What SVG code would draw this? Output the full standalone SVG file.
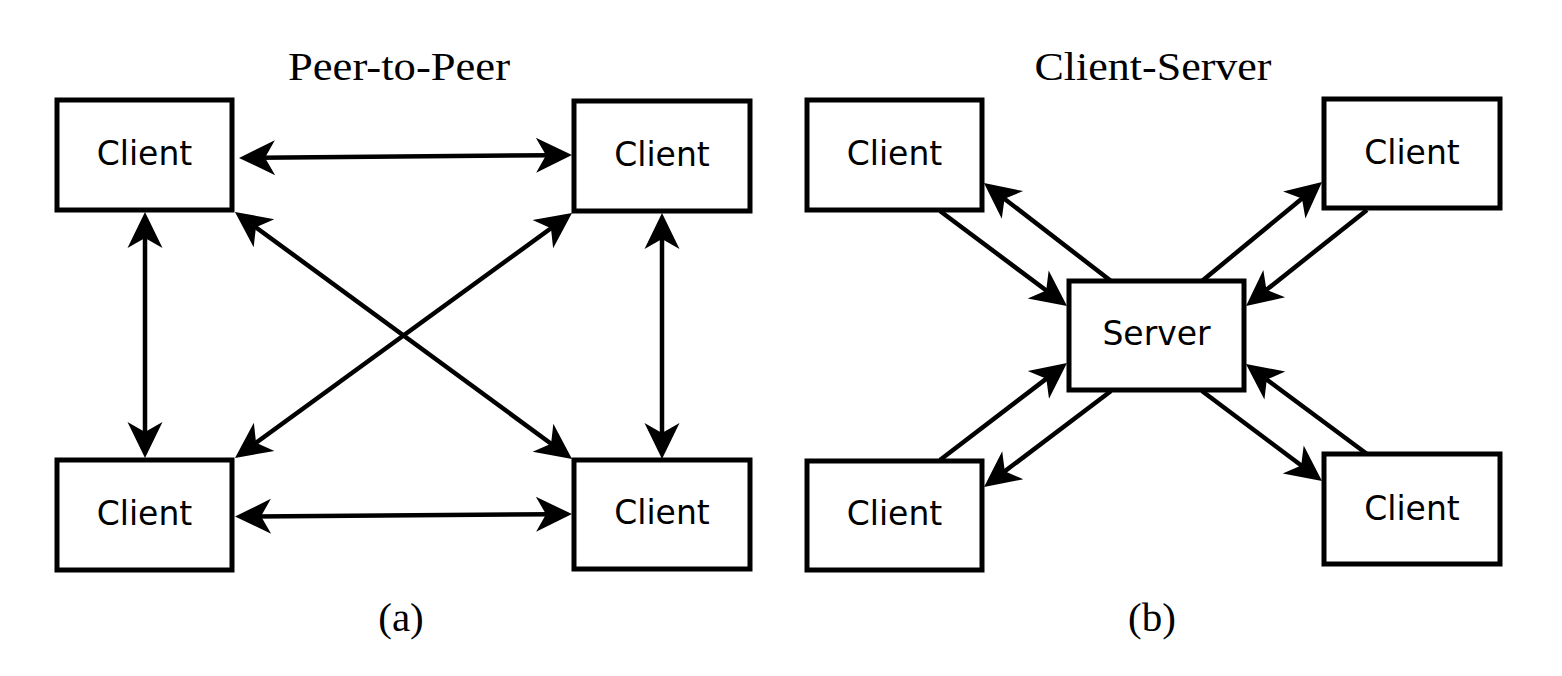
<svg xmlns="http://www.w3.org/2000/svg" width="1562" height="676" viewBox="0 0 1562 676">
<style>
.box{fill:#fff;stroke:#000;stroke-width:5}
.lbl{font-family:"DejaVu Sans",sans-serif;font-size:33px;fill:#000;text-anchor:middle}
.ttl{font-family:"Liberation Serif",serif;font-size:41px;fill:#000;text-anchor:middle}
.c line{stroke:#000;stroke-width:4.5;fill:none}
.one{marker-end:url(#ah)}
.two{marker-start:url(#ah);marker-end:url(#ah)}
</style>
<defs>
<marker id="ah" markerUnits="userSpaceOnUse" markerWidth="40" markerHeight="40" refX="0" refY="0" orient="auto-start-reverse" overflow="visible" viewBox="-20 -20 40 40">
<path d="M20,0 L-16,-17.5 L-6,0 L-16,17.5 Z" fill="#000"/>
</marker>
</defs>
<rect width="1562" height="676" fill="#fff"/>
<text class="ttl" x="399" y="80" textLength="222" lengthAdjust="spacingAndGlyphs">Peer-to-Peer</text>
<text class="ttl" x="1153" y="80" textLength="237" lengthAdjust="spacingAndGlyphs">Client-Server</text>
<text class="ttl" x="401" y="631" font-size="43">(a)</text>
<text class="ttl" x="1152" y="631" font-size="43">(b)</text>
<g class="c" id="connectors">
<line class="two" x1="259" y1="157.8" x2="552" y2="155.2"/>
<line class="two" x1="255" y1="516.4" x2="552" y2="514.2"/>
<line class="two" x1="145" y1="232" x2="145" y2="438"/>
<line class="two" x1="662" y1="233" x2="662" y2="439"/>
<line class="two" x1="251.1" y1="223.8" x2="555.9" y2="447.2"/>
<line class="two" x1="555.8" y1="224.8" x2="251.2" y2="446.2"/>
<line class="one" x1="940" y1="211" x2="1051" y2="294"/>
<line class="one" x1="1111" y1="281" x2="999.8" y2="195.2"/>
<line class="one" x1="1202" y1="281" x2="1306.6" y2="194.7"/>
<line class="one" x1="1367" y1="210" x2="1261.7" y2="293.6"/>
<line class="one" x1="940" y1="460" x2="1051.1" y2="375.1"/>
<line class="one" x1="1111" y1="391" x2="1000" y2="474.9"/>
<line class="one" x1="1202" y1="391" x2="1306" y2="469"/>
<line class="one" x1="1367" y1="454" x2="1262" y2="376"/>
</g>
<g id="p2p-tl"><rect class="box" x="57" y="100" width="175" height="110"/><text class="lbl" x="144.5" y="165">Client</text></g>
<g id="p2p-tr"><rect class="box" x="574" y="101" width="176" height="110"/><text class="lbl" x="662" y="166">Client</text></g>
<g id="p2p-bl"><rect class="box" x="57" y="460" width="175" height="110"/><text class="lbl" x="144.5" y="525">Client</text></g>
<g id="p2p-br"><rect class="box" x="574" y="460" width="176" height="109"/><text class="lbl" x="662" y="524">Client</text></g>
<g id="cs-tl"><rect class="box" x="807" y="100" width="175" height="110"/><text class="lbl" x="894.5" y="165">Client</text></g>
<g id="cs-tr"><rect class="box" x="1324" y="99" width="176" height="109"/><text class="lbl" x="1412" y="164">Client</text></g>
<g id="cs-server"><rect class="box" x="1069" y="281" width="175" height="109"/><text class="lbl" x="1156.5" y="345">Server</text></g>
<g id="cs-bl"><rect class="box" x="807" y="461" width="175" height="109"/><text class="lbl" x="894.5" y="525">Client</text></g>
<g id="cs-br"><rect class="box" x="1324" y="454" width="176" height="110"/><text class="lbl" x="1412" y="520">Client</text></g>
</svg>
